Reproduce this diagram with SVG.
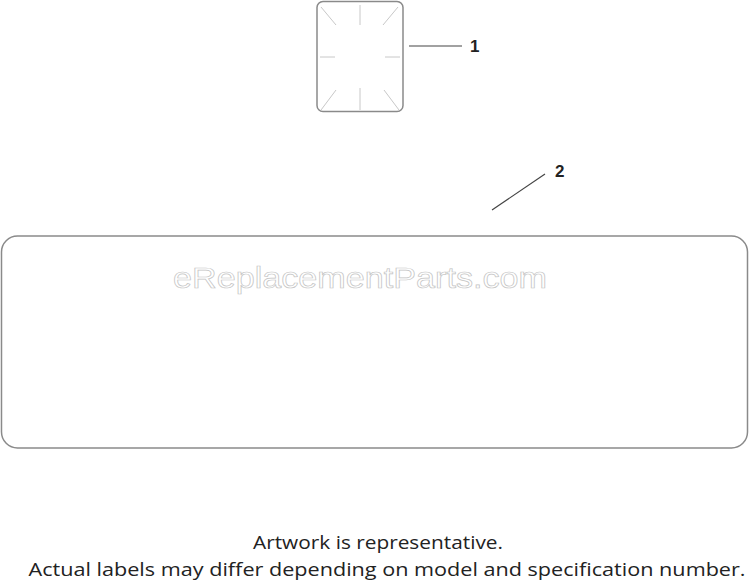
<svg xmlns="http://www.w3.org/2000/svg" width="750" height="583" viewBox="0 0 750 583">
<style>
.outline{fill:none;stroke:#8a8a8a;stroke-width:1.5}
.tick{stroke:#c8c8c8;stroke-width:1}
.leader{stroke:#444;stroke-width:1.2;fill:none}
.num{font-family:"Liberation Sans",Arial,sans-serif;font-size:17px;font-weight:bold;fill:#222}
.note{font-family:"Open Sans","Liberation Sans",sans-serif;font-size:19px;fill:#222;text-anchor:middle}
.wm{font-family:"Liberation Sans",Arial,sans-serif;font-size:30px;fill:#fff;stroke:#c4c4c4;stroke-width:0.7;text-anchor:middle}
</style>
<rect width="750" height="583" fill="#fff"/>
<g id="part1">
<rect class="outline" x="317" y="1.5" width="86" height="110" rx="6"/>
<line class="tick" x1="360" y1="5" x2="360" y2="25"/>
<line class="tick" x1="360" y1="88" x2="360" y2="110"/>
<line class="tick" x1="320" y1="57" x2="335" y2="57"/>
<line class="tick" x1="385" y1="57" x2="400" y2="57"/>
<line class="tick" x1="321" y1="7" x2="336" y2="25"/>
<line class="tick" x1="398" y1="7" x2="383" y2="25"/>
<line class="tick" x1="321" y1="110" x2="336" y2="90"/>
<line class="tick" x1="399" y1="110" x2="384" y2="90"/>
</g>
<g id="part2">
<rect class="outline" x="1.5" y="236" width="746" height="212" rx="16"/>
</g>
<text class="wm" x="360" y="288" textLength="374" lengthAdjust="spacingAndGlyphs">eReplacementParts.com</text>
<g id="connectors">
<line class="leader" x1="409" y1="46" x2="462" y2="46"/>
<line class="leader" x1="492" y1="210" x2="545" y2="174" stroke="#666"/>
</g>
<g id="labels">
<text class="num" x="470" y="52">1</text>
<text class="num" x="555" y="177">2</text>
</g>
<text class="note" x="378" y="549" textLength="250" lengthAdjust="spacingAndGlyphs">Artwork is representative.</text>
<text class="note" x="387" y="576" textLength="717" lengthAdjust="spacingAndGlyphs">Actual labels may differ depending on model and specification number.</text>
</svg>
